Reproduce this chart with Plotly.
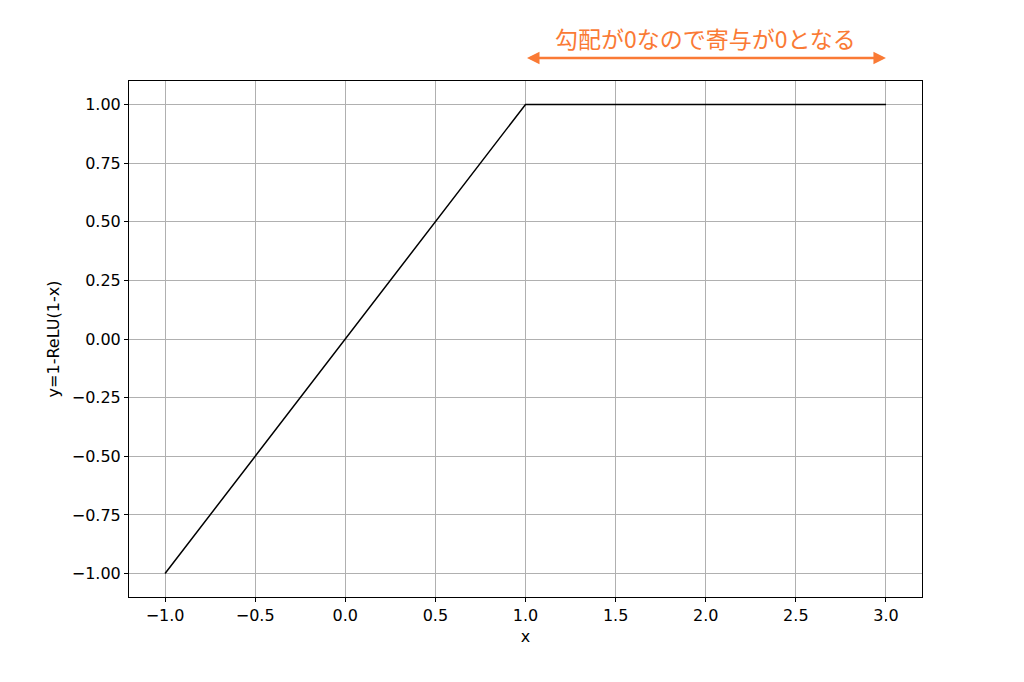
import plotly.graph_objects as go

x_vals = [-1.0, 1.0, 3.0]
y_vals = [-1.0, 1.0, 1.0]
x_ticks = [-1.0, -0.5, 0.0, 0.5, 1.0, 1.5, 2.0, 2.5, 3.0]
y_ticks = [-1.0, -0.75, -0.5, -0.25, 0.0, 0.25, 0.5, 0.75, 1.0]
annot_text = "勾配が0なので寄与が0となる"
arrow_start, arrow_end = 1.0, 3.0

orange = "#FA7A35"

fig = go.Figure()
fig.add_trace(go.Scatter(x=x_vals, y=y_vals, mode="lines",
                         line=dict(color="black", width=1.5), showlegend=False))

axis_common = dict(
    showgrid=True, gridcolor="#b0b0b0", gridwidth=0.8,
    showline=True, linecolor="black", linewidth=1, mirror=True,
    ticks="outside", ticklen=4, tickcolor="black", tickwidth=1,
    zeroline=False,
    tickfont=dict(family="DejaVu Sans", size=16, color="black"),
)

fig.update_xaxes(range=[-1.2, 3.2], tickvals=x_ticks,
                 ticktext=[f"{v:.1f}".replace("-", "\u2212") for v in x_ticks],
                 title=dict(text="x", font=dict(family="DejaVu Sans", size=16, color="black"), standoff=6),
                 **axis_common)
fig.update_yaxes(range=[-1.1, 1.1], tickvals=y_ticks,
                 ticktext=[f"{v:.2f}".replace("-", "\u2212") for v in y_ticks],
                 title=dict(text="y=1-ReLU(1-x)", font=dict(family="DejaVu Sans", size=16, color="black"), standoff=8),
                 **axis_common)

# double-headed arrow above plot
fig.add_annotation(x=arrow_end, y=1.0446, ax=arrow_start, ay=0,
                   xref="x", yref="paper", axref="x", ayref="pixel",
                   text="", showarrow=True, arrowhead=2, arrowside="end+start",
                   arrowsize=1, arrowwidth=2.5, arrowcolor=orange)
fig.add_annotation(x=(arrow_start + arrow_end) / 2, y=1.083, xref="x", yref="paper",
                   xanchor="center", yanchor="middle",
                   text=annot_text, showarrow=False,
                   font=dict(family="Noto Sans CJK JP", size=23, color=orange))

fig.update_layout(
    width=1024, height=682,
    margin=dict(l=121, r=110, t=73, b=93),
    plot_bgcolor="white", paper_bgcolor="white",
)

fig.write_html("out.html")
